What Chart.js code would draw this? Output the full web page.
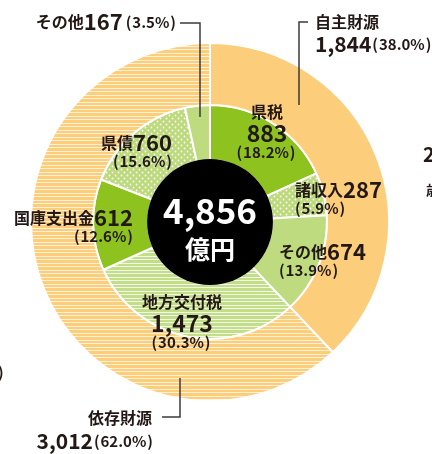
<!DOCTYPE html>
<html>
<head>
<meta charset="utf-8">
<script src="https://cdn.jsdelivr.net/npm/chart.js@4"></script>
<style>
  body { margin: 0; background: #fff; }
  canvas { display: block; }
</style>
</head>
<body>
<canvas id="revenue" width="432" height="454"></canvas>
<script>
// outer ring: 自主財源 / 依存財源
let ringLabels = ['自主財源', '依存財源'];
let ringValues = [1844, 3012];
let ringPercents = ['38.0%', '62.0%'];

// inner ring, clockwise from the top
let itemLabels = ['県税', '諸収入', 'その他', '地方交付税', '国庫支出金', '県債', 'その他'];
let itemValues = [883, 287, 674, 1473, 612, 760, 167];
let itemPercents = ['18.2%', '5.9%', '13.9%', '30.3%', '12.6%', '15.6%', '3.5%'];

let totalUnit = '億円';

const FONT = '"Noto Sans CJK JP", "Noto Sans", sans-serif';
const INK = '#231815';

// ////////////////////////////
// Fill patterns
// ////////////////////////////
function stripes(base, line) {
    let c = document.createElement('canvas');
    c.width = 8; c.height = 7;
    let g = c.getContext('2d');
    g.fillStyle = base;
    g.fillRect(0, 0, 8, 7);
    g.fillStyle = line;
    g.fillRect(0, 0, 8, 1);
    g.fillRect(0, 4, 8, 1);
    return g.createPattern(c, 'repeat');
}

function dots(base) {
    let c = document.createElement('canvas');
    c.width = 6; c.height = 6;
    let g = c.getContext('2d');
    g.fillStyle = base;
    g.fillRect(0, 0, 6, 6);
    g.fillStyle = '#ffffff';
    g.beginPath();
    g.arc(1.5, 1.5, 0.9, 0, Math.PI * 2);
    g.arc(4.5, 4.5, 0.9, 0, Math.PI * 2);
    g.fill();
    return g.createPattern(c, 'repeat');
}

let orange = '#fccd7b';
let green = '#8dc21f';
let lightGreen = '#bfdb7f';

let ringColors = [orange, stripes(orange, '#fff1d6')];
let itemColors = [
    green,
    dots('#bcd97c'),
    lightGreen,
    stripes('#c3de88', '#f3f8e6'),
    green,
    dots('#bcd97c'),
    lightGreen
];

// ////////////////////////////
// Text helpers
// ////////////////////////////
function runWidth(ctx, runs) {
    let w = 0;
    runs.forEach(function(r) {
        ctx.font = 'bold ' + r[1] + 'px ' + FONT;
        w += ctx.measureText(r[0]).width;
    });
    return w;
}

function drawRuns(ctx, runs, x, y, align, color) {
    let w = runWidth(ctx, runs);
    if (align === 'center') x -= w / 2;
    if (align === 'right') x -= w;
    ctx.textBaseline = 'middle';
    ctx.textAlign = 'left';
    ctx.fillStyle = color || INK;
    runs.forEach(function(r) {
        ctx.font = 'bold ' + r[1] + 'px ' + FONT;
        ctx.fillText(r[0], x, y);
        x += ctx.measureText(r[0]).width;
    });
}

function num(v) {
    return v.toLocaleString('en-US');
}

function pct(p) {
    return '(\u200A' + p + '\u200A)';
}

// label anchors for the inner slices: [x, y, align, stacked]
let itemAnchors = [
    [267, 112, 'center', 3],
    [295, 190, 'left', 2],
    [279, 252, 'left', 2],
    [182, 302, 'center', 3],
    [133, 218, 'right', 2],
    [172, 143, 'right', 2],
    [176, 22, 'right', 1]
];

let labelsPlugin = {
    id: 'labels',
    afterDatasetsDraw: function(chart) {
        let ctx = chart.ctx;
        let inner = chart.getDatasetMeta(1).data[0];
        ctx.save();

        // black centre disc
        ctx.beginPath();
        ctx.arc(inner.x, inner.y, inner.innerRadius + 1, 0, Math.PI * 2);
        ctx.fillStyle = '#000';
        ctx.fill();

        let total = itemValues.reduce(function(a, b) { return a + b; }, 0);
        drawRuns(ctx, [[num(total), 35]], inner.x, inner.y - 11, 'center', '#fff');
        drawRuns(ctx, [[totalUnit, 25]], inner.x, inner.y + 27, 'center', '#fff');

        // inner slice labels
        for (let i = 0; i < itemLabels.length; i++) {
            let a = itemAnchors[i];
            let x = a[0], y = a[1], align = a[2];
            if (a[3] === 3) {
                drawRuns(ctx, [[itemLabels[i], 16]], x, y, align);
                drawRuns(ctx, [[num(itemValues[i]), 23]], x, y + 21, align);
                drawRuns(ctx, [[pct(itemPercents[i]), 15]], x - 1, y + 40, align);
            } else if (a[3] === 2) {
                drawRuns(ctx, [[itemLabels[i], 16], [num(itemValues[i]), 22]], x, y, align);
                drawRuns(ctx, [[pct(itemPercents[i]), 15]], x, y + 18, align);
            } else {
                drawRuns(ctx, [[itemLabels[i], 16], [num(itemValues[i]), 22], ['\u2009' + pct(itemPercents[i]), 15]], x, y, align);
            }
        }

        // outer ring labels
        drawRuns(ctx, [[ringLabels[0], 16]], 315, 22, 'left');
        drawRuns(ctx, [[num(ringValues[0]), 21], ['\u200A' + pct(ringPercents[0]), 15]], 315, 44, 'left');
        drawRuns(ctx, [[ringLabels[1], 16]], 152, 418, 'right');
        drawRuns(ctx, [[num(ringValues[1]), 21], ['\u200A' + pct(ringPercents[1]), 15]], 153, 441, 'right');

        // leader lines
        ctx.strokeStyle = '#3e3a39';
        ctx.lineWidth = 1.5;
        ctx.beginPath();
        ctx.moveTo(180, 23); ctx.lineTo(200, 23); ctx.lineTo(200, 117);
        ctx.moveTo(308, 22); ctx.lineTo(299, 22); ctx.lineTo(299, 105);
        ctx.moveTo(162, 417); ctx.lineTo(180, 417); ctx.lineTo(180, 378);
        ctx.stroke();

        // bits of the neighbouring panels that fall inside the frame
        drawRuns(ctx, [['2', 20]], 423, 154, 'left');
        drawRuns(ctx, [['歳', 14]], 426, 190, 'left');
        drawRuns(ctx, [[')', 15]], -2, 372, 'left');

        ctx.restore();
    }
};

// ////////////////////////////
// Chart
// ////////////////////////////
let ctxRevenue = document.getElementById('revenue').getContext('2d');
let chartRevenue = new Chart(ctxRevenue, {
    type: 'doughnut',
    data: {
        labels: itemLabels,
        datasets: [{
            label: 'ring',
            data: ringValues,
            backgroundColor: ringColors,
            borderColor: '#ffffff',
            borderWidth: 2,
            weight: 62
        }, {
            label: 'items',
            data: itemValues,
            backgroundColor: itemColors,
            borderColor: '#ffffff',
            borderWidth: 2,
            weight: 55
        }]
    },
    options: {
        responsive: false,
        animation: false,
        cutout: '34.6%',
        layout: { padding: { left: 30, right: 42, top: 42, bottom: 52 } },
        plugins: {
            legend: { display: false },
            tooltip: { enabled: false }
        }
    },
    plugins: [labelsPlugin]
});
</script>
</body>
</html>
